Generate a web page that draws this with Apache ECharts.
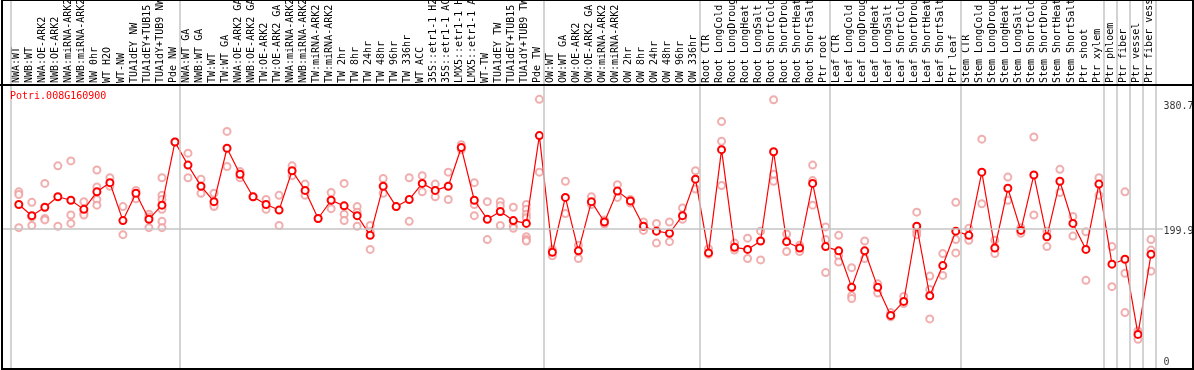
<!DOCTYPE html>
<html>
<head>
<meta charset="utf-8">
<script src="https://cdn.jsdelivr.net/npm/echarts@6/dist/echarts.min.js"></script>
<style>html,body{margin:0;padding:0;background:#fff}#c{width:1194px;height:370px}</style>
</head>
<body>
<div id="c"></div>
<script>
const categories = [
  'NWA:WT','NWB:WT','NWA:OE-ARK2','NWB:OE-ARK2','NWA:miRNA-ARK2','NWB:miRNA-ARK2','NW 0hr','WT H2O','WT-NW','TUA1dEY NW',
  'TUA1dEY+TUB15 NW','TUA1dY+TUB9 NW','Pde NW','NWA:WT GA','NWB:WT GA','TW:WT','TW:WT GA','NWA:OE-ARK2 GA','NWB:OE-ARK2 GA','TW:OE-ARK2',
  'TW:OE-ARK2 GA','NWA:miRNA-ARK2 GA','NWB:miRNA-ARK2 GA','TW:miRNA-ARK2','TW:miRNA-ARK2 GA','TW 2hr','TW 8hr','TW 24hr','TW 48hr','TW 96hr',
  'TW 336hr','WT ACC','35S::etr1-1 H2O','35S::etr1-1 ACC','LMX5::etr1-1 H2O','LMX5::etr1-1 ACC','WT-TW','TUA1dEY TW','TUA1dEY+TUB15 TW','TUA1dY+TUB9 TW',
  'Pde TW','OW:WT','OW:WT GA','OW:OE-ARK2','OW:OE-ARK2 GA','OW:miRNA-ARK2','OW:miRNA-ARK2 GA','OW 2hr','OW 8hr','OW 24hr',
  'OW 48hr','OW 96hr','OW 336hr','Root CTR','Root LongCold','Root LongDrought','Root LongHeat','Root LongSalt','Root ShortCold','Root ShortDrought',
  'Root ShortHeat','Root ShortSalt','Ptr root','Leaf CTR','Leaf LongCold','Leaf LongDrought','Leaf LongHeat','Leaf LongSalt','Leaf ShortCold','Leaf ShortDrought',
  'Leaf ShortHeat','Leaf ShortSalt','Ptr leaf','Stem CTR','Stem LongCold','Stem LongDrought','Stem LongHeat','Stem LongSalt','Stem ShortCold','Stem ShortDrought',
  'Stem ShortHeat','Stem ShortSalt','Ptr shoot','Ptr xylem','Ptr phloem','Ptr fiber','Ptr vessel','Ptr fiber vessel'
];
const meanValues = [
  231,215,227,242,237,224,249,262,208,247,
  210,230,320,287,257,235,311,274,242,231,
  223,279,251,211,237,229,215,187,257,228,
  238,261,251,257,312,237,210,221,208,204,
  329,163,241,165,235,206,250,236,200,193,
  190,215,267,162,309,170,167,179,306,178,
  169,261,171,165,113,165,113,73,93,200,
  101,144,193,187,277,169,254,194,273,185,
  264,204,167,260,146,153,46,160
];
const replicateValues = [
  [249,245,198],[234,213,201],[261,211,209],[286,200],[293,216,204],[235,219,216],[280,256,238,230],[269,257],[228,188],[251,239],
  [217,213,198],[269,244,238,224,207,198],[320],[304,269],[267,247],[247,231,228],[335,285],[278,269],[242],[238,224],
  [244,201],[286,272],[260,244],[211],[248,225],[261,217,208],[228,220,200],[201,192,167],[268,247],[228],
  [269,207],[272,249],[260,242],[277,238],[316,309],[262,231,215],[235,181],[235,229,201],[227,200,197],[231,224,217,212,185,181,179],
  [380.7,277],[167,158],[264,218],[173,154],[242,231],[209,203],[259,241],[238,233],[206,194],[204,176],
  [206,178],[226,210],[279,253],[168,160],[349,321,258],[176,166],[183,154],[193,152],[380,274,264],[189,164],
  [173,164],[287,265,230],[199,181,134],[187,158,149],[141,101,97],[179,154],[118,105],[77,71],[100,90],[220,193,188],
  [129,110,68],[161,130],[234,181,162],[197,180],[324,232],[180,161],[270,237],[198,190],[327,216],[193,171],
  [281,248],[214,186],[192,123],[269,244],[171,114],[249,133,77],[51,39],[181,166,136]
];
const groupBreaks = [0, 13, 41, 53, 63, 73, 84, 85, 86, 87, 88];
const refLevels = [380.7, 199.9, 0];
const refLabelShift = [5, 3.5, -6.5];
const geneId = 'Potri.008G160900';

const MONO = '"DejaVu Sans Mono", "Liberation Mono", monospace';
const Y_MAX = 402.5;

const chart = echarts.init(document.getElementById('c'), null, {renderer: 'canvas'});
const scatterData = [];
replicateValues.forEach((arr, i) => arr.forEach(v => scatterData.push([i, v])));

chart.setOption({
  animation: false,
  backgroundColor: '#ffffff',
  title: {
    text: geneId, left: 10, top: 91, padding: 0,
    textStyle: {fontFamily: MONO, fontSize: 10, fontWeight: 'normal', color: '#ff0000'}
  },
  grid: [
    {left: 10.3, right: 38.5, top: 0, bottom: 0},
    {left: 10.3, right: 38.5, top: 0, height: 85},
    {left: 12.3, right: 36.5, top: 84, bottom: 3.3},
    {left: 2, right: 31, top: 86, bottom: 1.3}
  ],
  xAxis: [
    {gridIndex: 0, type: 'value', min: 0, max: categories.length, show: false},
    {gridIndex: 1, type: 'category', data: categories, position: 'bottom', boundaryGap: true,
     axisLine: {show: false}, axisTick: {show: false}, splitLine: {show: false},
     axisLabel: {inside: true, rotate: 90, interval: 0, margin: 2, fontFamily: MONO, fontSize: 10, color: '#000'}},
    {gridIndex: 2, type: 'category', data: categories, boundaryGap: true, show: false},
    {gridIndex: 3, type: 'value', min: 0, max: 1, show: false}
  ],
  yAxis: [
    {gridIndex: 0, type: 'value', min: 0, max: 1, show: false},
    {gridIndex: 1, type: 'value', min: 0, max: 1, show: false},
    {gridIndex: 2, type: 'value', min: 0, max: Y_MAX, show: false},
    {gridIndex: 3, type: 'value', min: 0, max: Y_MAX, show: false}
  ],
  series: [
    {
      type: 'line', xAxisIndex: 0, yAxisIndex: 0, data: [[0, -5]], showSymbol: false, lineStyle: {width: 0}, silent: true,
      markLine: {
        silent: true, symbol: 'none', animation: false,
        lineStyle: {color: '#c4c4c4', width: 1.5, type: 'solid'},
        label: {show: false},
        data: groupBreaks.map(b => ({xAxis: b}))
      }
    },
    {
      type: 'line', xAxisIndex: 3, yAxisIndex: 3, data: [[0, -5]], showSymbol: false, lineStyle: {width: 0}, silent: true,
      markLine: {
        silent: true, symbol: 'none', animation: false,
        lineStyle: {color: '#c4c4c4', width: 1.5, type: 'solid'},
        label: {show: false},
        data: [{yAxis: refLevels[1]}]
      }
    },
    {
      type: 'scatter', xAxisIndex: 3, yAxisIndex: 3, silent: true,
      data: refLevels.map((v, i) => ({value: [1, v], label: {offset: [0, refLabelShift[i]]}})),
      symbolSize: 1, itemStyle: {color: 'transparent'},
      label: {show: true, position: 'right', distance: 0, color: '#000', fontFamily: MONO, fontSize: 10,
              formatter: p => String(p.value[1])}
    },
    {
      type: 'scatter', xAxisIndex: 2, yAxisIndex: 2, data: scatterData,
      symbol: 'emptyCircle', symbolSize: 7,
      itemStyle: {color: '#ee9a9a', borderColor: '#ee9a9a', borderWidth: 1.4},
      z: 3
    },
    {
      type: 'line', xAxisIndex: 2, yAxisIndex: 2, data: meanValues,
      symbol: 'emptyCircle', symbolSize: 7, showAllSymbol: true,
      itemStyle: {color: '#ff0000', borderColor: '#e00000', borderWidth: 1.6},
      lineStyle: {color: '#ff0000', width: 1.2},
      z: 4
    }
  ],
  graphic: [
    {type: 'line', z: 100, silent: true, shape: {x1: 0, y1: 85, x2: 1194, y2: 85}, style: {stroke: '#000', lineWidth: 2}},
    {type: 'rect', z: 100, silent: true, shape: {x: 2, y: 0, width: 1191, height: 369}, style: {fill: 'none', stroke: '#000', lineWidth: 2}}
  ]
});
</script>
</body>
</html>
